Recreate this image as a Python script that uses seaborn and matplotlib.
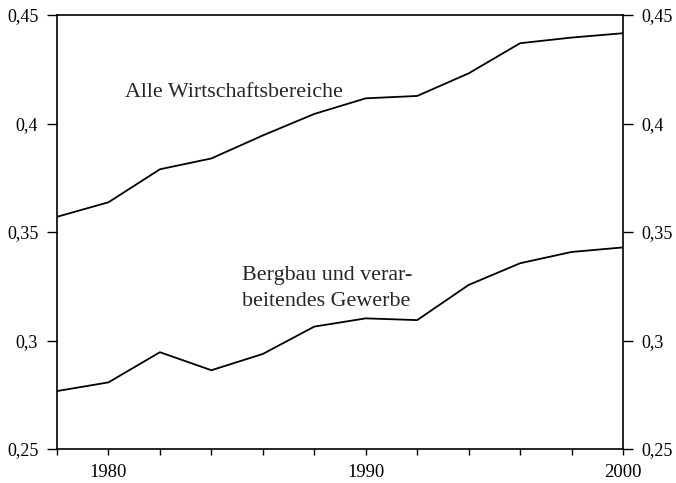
import matplotlib
matplotlib.use("Agg")
import matplotlib.pyplot as plt
import seaborn as sns
import pandas as pd
from matplotlib.ticker import FixedLocator, FuncFormatter

years = [1978, 1980, 1982, 1984, 1986, 1988, 1990, 1992, 1994, 1996, 1998, 2000]
alle = [0.357, 0.3637, 0.3789, 0.3839, 0.3945, 0.4044, 0.4116, 0.4127, 0.4231, 0.437, 0.4396, 0.4416]
bergbau = [0.2767, 0.2807, 0.2946, 0.2863, 0.2938, 0.3064, 0.3102, 0.3094, 0.3256, 0.3356, 0.3408, 0.3429]
ytick_vals = [0.25, 0.3, 0.35, 0.4, 0.45]
ytick_labels = ["0,25", "0,3", "0,35", "0,4", "0,45"]
xtick_labels = {1980: "1980", 1990: "1990", 2000: "2000"}
label_alle = "Alle Wirtschaftsbereiche"
label_berg_1 = "Bergbau und verar-"
label_berg_2 = "beitendes Gewerbe"

sns.set_style("ticks")
plt.rcParams['font.family'] = ['Liberation Serif', 'DejaVu Serif']

df = pd.DataFrame({
    "Jahr": years * 2,
    "Wert": alle + bergbau,
    "Reihe": [label_alle] * len(years) + ["Bergbau"] * len(years),
})

fig = plt.figure(figsize=(6.76, 4.83), dpi=100)
ax = fig.add_axes([57/676, 1 - 449/483, (623-57)/676, (449-15)/483])
sns.lineplot(data=df, x="Jahr", y="Wert", hue="Reihe", palette=["black", "black"],
             linewidth=1.3, legend=False, ax=ax)

ax.set_xlim(1978, 2000)
ax.set_ylim(0.25, 0.45)
ax.set_xlabel("")
ax.set_ylabel("")

ax.xaxis.set_major_locator(FixedLocator(years))
ax.xaxis.set_major_formatter(FuncFormatter(lambda v, p: xtick_labels.get(int(round(v)), "")))
ax.yaxis.set_major_locator(FixedLocator(ytick_vals))
ax.set_yticklabels(ytick_labels)

ax.tick_params(axis="y", which="both", left=True, right=True, labelleft=True, labelright=True,
               direction="out", length=7, width=1, labelsize=13, pad=6.5, colors="black")
ax.tick_params(axis="x", direction="out", length=4, width=1, labelsize=13.4, pad=7, colors="black")

for s in ax.spines.values():
    s.set_visible(True)
    s.set_linewidth(1.2)
    s.set_color("black")

ax.text(1980.65, 0.4124, label_alle, fontsize=15.8, ha="left", va="baseline")
ax.text(1985.2, 0.3279, label_berg_1, fontsize=15.8, ha="left", va="baseline")
ax.text(1985.2, 0.3159, label_berg_2, fontsize=15.8, ha="left", va="baseline")

fig.savefig("out.png", dpi=100)
